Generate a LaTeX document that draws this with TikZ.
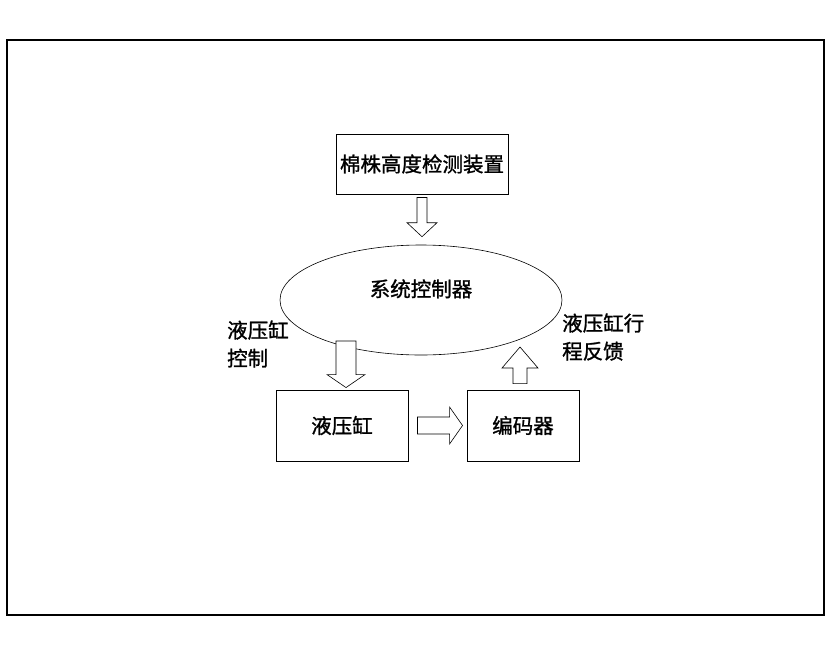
\documentclass[tikz,border=0pt]{standalone}
\usepackage{fontspec}
\usepackage{tikz}
\usetikzlibrary{calc,positioning,shapes.geometric}
\newfontfamily\cjk{Noto Sans CJK SC}[AutoFakeBold=1.2]

% hollow block arrow: start, tip, half shaft, half head, head length
\newcommand{\blockarrow}[5]{%
  \coordinate (hb) at ($(#2)!#5!(#1)$);
  \draw[blk] ($(#1)!#3!90:(#2)$) -- ($(hb)!#3!-90:(#1)$) -- ($(hb)!#4!-90:(#1)$)
    -- (#2) -- ($(hb)!#4!90:(#1)$) -- ($(hb)!#3!90:(#1)$) -- ($(#1)!#3!-90:(#2)$) -- cycle;}

\begin{document}
\begin{tikzpicture}[x=1pt,y=-1pt,font=\cjk\bfseries\fontsize{20.5}{28}\selectfont,
     box/.style={rectangle,draw,line width=0.9pt,inner sep=0pt},
     blk/.style={draw,line width=0.6pt,fill=white,line join=miter},
     lbl/.style={anchor=west,align=left,inner sep=0pt}]
    \useasboundingbox (0,0) rectangle (830,654);
    \draw[line width=1.2pt] (7,40) rectangle (824,615);
    % blocks
    \node[box,minimum width=172,minimum height=60] (det) at (422,164) {棉株高度检测装置};
    \node[ellipse,draw,line width=0.6pt,minimum width=282,minimum height=110,text depth=24pt] (ctrl) at (421,300) {系统控制器};
    \node[box,minimum width=132,minimum height=71] (cyl) at (342,425.5) {液压缸};
    \node[box,minimum width=112,minimum height=71] (enc) at (523,425.5) {编码器};
    % labels
    \node[lbl] (cyllbl) at (227,344) {液压缸\\控制};
    \node[lbl] (fblbl) at (562,337) {液压缸行\\程反馈};
    % arrow ends
    \coordinate (a1s) at ($(det.south)+(0,3)$);
    \coordinate (a1t) at ($(ctrl.north)+(1,-8)$);
    \coordinate (a2s) at (346,341);
    \coordinate (a2t) at ($(cyl.north)+(4,-2)$);
    \coordinate (a3s) at ($(enc.north)+(-3,-6)$);
    \coordinate (a3t) at (520,347);
    \coordinate (a4s) at ($(cyl.east)+(9,0)$);
    \coordinate (a4t) at ($(enc.west)+(-4,0)$);
    \blockarrow{a1s}{a1t}{5pt}{15pt}{14pt}
    \blockarrow{a2s}{a2t}{10pt}{19pt}{13pt}
    \blockarrow{a3s}{a3t}{7pt}{18pt}{21pt}
    \blockarrow{a4s}{a4t}{8.5pt}{18.5pt}{13pt}
  \end{tikzpicture}
\end{document}
